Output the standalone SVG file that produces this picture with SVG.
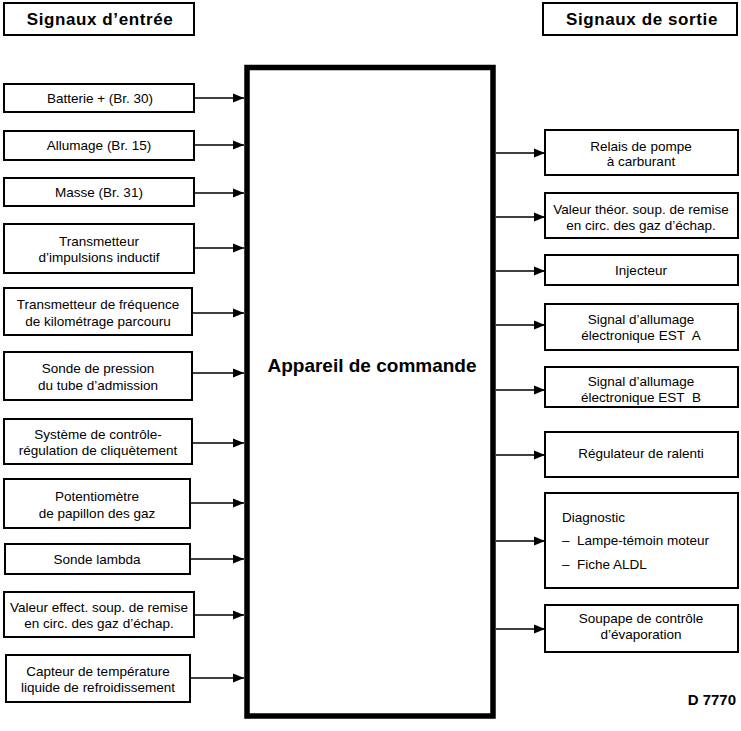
<svg xmlns="http://www.w3.org/2000/svg" width="741" height="731" viewBox="0 0 741 731">
<defs>
<marker id="ah" markerUnits="userSpaceOnUse" markerWidth="11" markerHeight="10" refX="11" refY="5" orient="auto" viewBox="0 0 11 10">
<path d="M0,0.5 L11,5 L0,9.5 z" fill="#000"/>
</marker>
<style>
.bx{fill:#fff;stroke:#000;stroke-width:2}
.hb{fill:#fff;stroke:#000;stroke-width:2}
.t{font-family:"Liberation Sans",Arial,sans-serif;font-size:13.5px;fill:#000;text-anchor:middle}
.tl{font-family:"Liberation Sans",Arial,sans-serif;font-size:13.5px;fill:#000}
.h{font-family:"Liberation Sans",Arial,sans-serif;font-size:17px;font-weight:bold;fill:#000;text-anchor:middle;letter-spacing:0.6px}
.main{fill:#fff;stroke:#000;stroke-width:5.5}
.mt{font-family:"Liberation Sans",Arial,sans-serif;font-size:19px;font-weight:bold;fill:#000;text-anchor:middle}
.c{stroke:#000;stroke-width:1.6;fill:none;marker-end:url(#ah)}
</style>
</defs>
<rect width="741" height="731" fill="#fff"/>

<g id="hdr-in"><rect class="hb" x="4" y="3" width="190" height="32"/><text class="h" x="100" y="25">Signaux d’entrée</text></g>
<g id="hdr-out"><rect class="hb" x="543" y="3" width="194" height="32"/><text class="h" x="642" y="25">Signaux de sortie</text></g>

<g id="ecu"><rect class="main" x="247" y="67.5" width="246" height="648.5"/><text class="mt" x="372" y="372">Appareil de commande</text></g>

<g id="in1"><rect class="bx" x="4" y="84" width="190" height="28"/><text class="t" x="100" y="102.5">Batterie + (Br. 30)</text></g>
<g id="in2"><rect class="bx" x="4" y="131" width="190" height="29"/><text class="t" x="99" y="150">Allumage (Br. 15)</text></g>
<g id="in3"><rect class="bx" x="4" y="178" width="190" height="28"/><text class="t" x="99" y="196.5">Masse (Br. 31)</text></g>
<g id="in4"><rect class="bx" x="4" y="224" width="190" height="49"/><text class="t" x="99" y="246">Transmetteur</text><text class="t" x="99" y="262">d’impulsions inductif</text></g>
<g id="in5"><rect class="bx" x="4" y="288" width="188" height="47"/><text class="t" x="98" y="309">Transmetteur de fréquence</text><text class="t" x="98" y="326">de kilométrage parcouru</text></g>
<g id="in6"><rect class="bx" x="4" y="352" width="188" height="48"/><text class="t" x="98" y="373">Sonde de pression</text><text class="t" x="98" y="390">du tube d’admission</text></g>
<g id="in7"><rect class="bx" x="4" y="419" width="188" height="45"/><text class="t" x="98" y="439">Système de contrôle-</text><text class="t" x="98" y="455">régulation de cliquètement</text></g>
<g id="in8"><rect class="bx" x="4" y="479" width="186" height="49"/><text class="t" x="97" y="501">Potentiomètre</text><text class="t" x="97" y="518">de papillon des gaz</text></g>
<g id="in9"><rect class="bx" x="5" y="544" width="185" height="30"/><text class="t" x="97" y="563.5">Sonde lambda</text></g>
<g id="in10"><rect class="bx" x="4" y="592" width="190" height="45"/><text class="t" x="99" y="612">Valeur effect. soup. de remise</text><text class="t" x="99" y="628">en circ. des gaz d’échap.</text></g>
<g id="in11"><rect class="bx" x="6" y="655" width="184" height="47"/><text class="t" x="98" y="676">Capteur de température</text><text class="t" x="98" y="692">liquide de refroidissement</text></g>

<g id="out1"><rect class="bx" x="545" y="130" width="193" height="45"/><text class="t" x="641" y="151">Relais de pompe</text><text class="t" x="641" y="166">à carburant</text></g>
<g id="out2"><rect class="bx" x="545" y="193" width="193" height="45"/><text class="t" x="641" y="214">Valeur théor. soup. de remise</text><text class="t" x="641" y="230">en circ. des gaz d’échap.</text></g>
<g id="out3"><rect class="bx" x="545" y="255" width="193" height="30"/><text class="t" x="641" y="275">Injecteur</text></g>
<g id="out4"><rect class="bx" x="545" y="304" width="193" height="46"/><text class="t" x="641" y="324">Signal d’allumage</text><text class="t" x="641" y="340">électronique EST&#160; A</text></g>
<g id="out5"><rect class="bx" x="545" y="367" width="193" height="40"/><text class="t" x="641" y="386">Signal d’allumage</text><text class="t" x="641" y="402">électronique EST&#160; B</text></g>
<g id="out6"><rect class="bx" x="545" y="432" width="193" height="45"/><text class="t" x="641" y="458">Régulateur de ralenti</text></g>
<g id="out7"><rect class="bx" x="545" y="493" width="193" height="95"/><text class="tl" x="562" y="522">Diagnostic</text><text class="tl" x="562" y="545">–</text><text class="tl" x="577" y="545">Lampe-témoin moteur</text><text class="tl" x="562" y="569">–</text><text class="tl" x="577" y="569">Fiche ALDL</text></g>
<g id="out8"><rect class="bx" x="545" y="605" width="193" height="47"/><text class="t" x="641" y="623">Soupape de contrôle</text><text class="t" x="641" y="639">d’évaporation</text></g>

<g id="connectors">
<line class="c" x1="194" y1="98" x2="244" y2="98"/>
<line class="c" x1="194" y1="145" x2="244" y2="145"/>
<line class="c" x1="194" y1="193" x2="244" y2="193"/>
<line class="c" x1="194" y1="248" x2="244" y2="248"/>
<line class="c" x1="192" y1="313" x2="244" y2="313"/>
<line class="c" x1="192" y1="373" x2="244" y2="373"/>
<line class="c" x1="192" y1="443" x2="244" y2="443"/>
<line class="c" x1="190" y1="503" x2="244" y2="503"/>
<line class="c" x1="190" y1="559" x2="244" y2="559"/>
<line class="c" x1="194" y1="615" x2="244" y2="615"/>
<line class="c" x1="190" y1="678" x2="244" y2="678"/>
<line class="c" x1="496" y1="153" x2="545" y2="153"/>
<line class="c" x1="496" y1="217" x2="545" y2="217"/>
<line class="c" x1="496" y1="271" x2="545" y2="271"/>
<line class="c" x1="496" y1="325" x2="545" y2="325"/>
<line class="c" x1="496" y1="390" x2="545" y2="390"/>
<line class="c" x1="496" y1="455" x2="545" y2="455"/>
<line class="c" x1="496" y1="541" x2="545" y2="541"/>
<line class="c" x1="496" y1="629" x2="545" y2="629"/>
</g>

<text x="736" y="705" style="font-family:'Liberation Sans',Arial,sans-serif;font-size:15px;font-weight:bold;text-anchor:end">D 7770</text>
</svg>
